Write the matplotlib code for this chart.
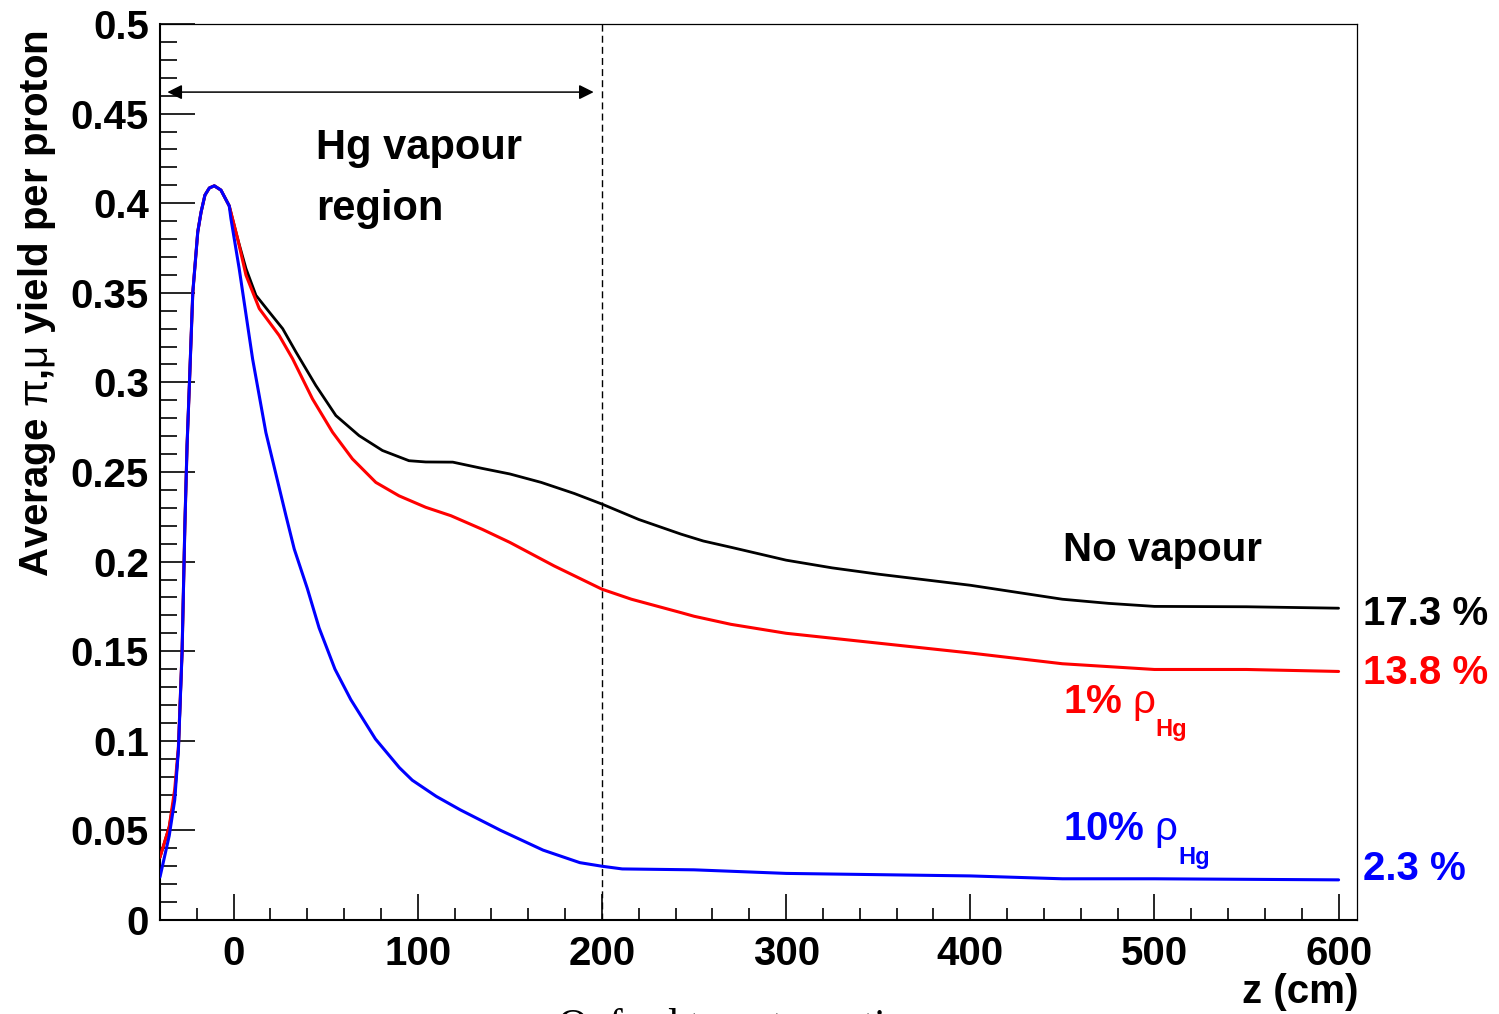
import matplotlib
matplotlib.use("Agg")
import matplotlib.pyplot as plt
from matplotlib.ticker import MultipleLocator, FixedLocator

# ---------------- data ----------------
z_black = [-40, -35, -32, -30, -28, -26.5, -25.3, -24, -22.2, -19.5, -17.7, -15.6, -13.2, -10.5,
           -6.9, -2.4, 2.2, 6.7, 12.1, 19.3, 26.6, 33.8, 44.6, 55.5, 68.1, 80.8, 95.2, 104.3,
           119, 135, 150, 167, 185, 200, 220, 243, 255, 270, 300, 325, 350, 400, 450, 475,
           500, 550, 600]
v_black = [0.035, 0.052, 0.070, 0.095, 0.150, 0.220, 0.265, 0.300, 0.350, 0.384, 0.395, 0.4045,
           0.4085, 0.4097, 0.4073, 0.3985, 0.380, 0.3635, 0.3486, 0.3393, 0.330, 0.317, 0.2983,
           0.2815, 0.2703, 0.262, 0.2563, 0.2556, 0.2555, 0.252, 0.2489, 0.2442, 0.238, 0.2321,
           0.2235, 0.2153, 0.2115, 0.208, 0.2008, 0.1965, 0.193, 0.1868, 0.179, 0.1767, 0.175,
           0.1748, 0.174]

z_red = [-40, -35, -32, -30, -28, -26.5, -25.3, -24, -22.2, -19.5, -17.7, -15.6, -13.2, -10.5,
         -6.9, -2.4, 2.2, 6.7, 13.9, 24.7, 32, 42.8, 53.7, 64.5, 77.2, 89.8, 104.3, 118, 135,
         150, 174, 200, 216, 243, 250, 270, 300, 350, 400, 450, 500, 550, 600]
v_red = [0.035, 0.052, 0.073, 0.097, 0.150, 0.220, 0.265, 0.300, 0.350, 0.384, 0.395, 0.4045,
         0.4085, 0.4097, 0.4073, 0.3985, 0.380, 0.3598, 0.3412, 0.3262, 0.3132, 0.2908, 0.2722,
         0.2573, 0.2442, 0.2367, 0.2303, 0.2256, 0.218, 0.2107, 0.1976, 0.1846, 0.179, 0.1715,
         0.1695, 0.165, 0.160, 0.1545, 0.149, 0.143, 0.1398, 0.1398, 0.1387]

z_blue = [-40, -35, -32, -30, -28, -26.5, -25.3, -24, -22.2, -19.5, -17.7, -15.6, -13.2, -10.5,
          -6.9, -2.4, -1.5, 3.0, 10.3, 17.5, 28.4, 32.9, 40, 46.4, 55, 63.6, 77, 90, 97, 110,
          123, 145, 168, 188, 200, 211, 250, 300, 400, 450, 500, 600]
v_blue = [0.024, 0.047, 0.067, 0.095, 0.150, 0.220, 0.265, 0.300, 0.350, 0.384, 0.395, 0.4045,
          0.4085, 0.4097, 0.4073, 0.3985, 0.3915, 0.3635, 0.313, 0.272, 0.2256, 0.207, 0.185,
          0.163, 0.140, 0.123, 0.101, 0.085, 0.078, 0.069, 0.0615, 0.050, 0.039, 0.032, 0.030,
          0.0285, 0.028, 0.026, 0.0246, 0.023, 0.023, 0.0224]

x_ticks = [0, 100, 200, 300, 400, 500, 600]
y_ticks = [0, 0.05, 0.1, 0.15, 0.2, 0.25, 0.3, 0.35, 0.4, 0.45, 0.5]
y_ticklabels = ["0", "0.05", "0.1", "0.15", "0.2", "0.25", "0.3", "0.35", "0.4", "0.45", "0.5"]

# ---------------- style ----------------
plt.rcParams['font.family'] = ['Liberation Sans', 'DejaVu Sans']
plt.rcParams['font.weight'] = 'bold'
plt.rcParams['mathtext.fontset'] = 'custom'
plt.rcParams['mathtext.rm'] = 'Liberation Sans:normal'
plt.rcParams['mathtext.it'] = 'Liberation Sans:normal'
plt.rcParams['mathtext.bf'] = 'Liberation Sans:bold'

W, H = 1499, 1014
fig = plt.figure(figsize=(W / 100, H / 100), dpi=100)
fig.patch.set_facecolor('white')

L, R, T, B = 160, 1357, 24, 920
ax = fig.add_axes([L / W, 1 - B / H, (R - L) / W, (B - T) / H])

def fx(px):
    return px / W

def fy(py):
    return 1 - py / H

kw = dict(solid_joinstyle='round', solid_capstyle='round')
ax.plot(z_black, v_black, color='black', lw=2.0, zorder=3, **kw)
ax.plot(z_red, v_red, color='#ff0000', lw=2.2, zorder=4, **kw)
ax.plot(z_blue, v_blue, color='#0000ff', lw=2.2, zorder=5, **kw)

ax.set_xlim(-40, 610)
ax.set_ylim(0, 0.5)

ax.xaxis.set_major_locator(FixedLocator(x_ticks))
ax.xaxis.set_minor_locator(MultipleLocator(20))
ax.yaxis.set_major_locator(FixedLocator(y_ticks))
ax.set_yticklabels(y_ticklabels)
ax.yaxis.set_minor_locator(MultipleLocator(0.01))

ax.tick_params(axis='y', which='major', direction='in', length=25, width=1.2,
               labelsize=29, pad=8, left=True, right=False)
ax.tick_params(axis='y', which='minor', direction='in', length=12.5, width=1.2,
               left=True, right=False)
ax.tick_params(axis='x', which='major', direction='in', length=19, width=1.2,
               labelsize=29, pad=11, bottom=True, top=False)
ax.tick_params(axis='x', which='minor', direction='in', length=8.6, width=1.2,
               bottom=True, top=False)
for lab in ax.get_xticklabels() + ax.get_yticklabels():
    lab.set_fontweight('bold')

ax.spines['left'].set_linewidth(1.5)
ax.spines['bottom'].set_linewidth(1.5)
ax.spines['top'].set_linewidth(0.9)
ax.spines['right'].set_linewidth(0.9)

# dashed boundary of Hg vapour region
ax.axvline(200, color='black', lw=1.0, dashes=(5, 3), zorder=2)

# double-headed arrow
ax.annotate('', xy=(-36, 0.462), xytext=(195.5, 0.462),
            arrowprops=dict(arrowstyle='<|-|>', color='black', lw=1.1,
                            mutation_scale=22, shrinkA=0, shrinkB=0))

# ---------------- texts ----------------
fig.text(fx(316), fy(159), "Hg vapour", fontsize=30, fontweight='bold', va='baseline')
fig.text(fx(316), fy(220), "region", fontsize=30, fontweight='bold', va='baseline')

fig.text(fx(1063), fy(561), "No vapour", fontsize=29, fontweight='bold', va='baseline')

fig.text(fx(1063), fy(713), r"1% $\rho$", fontsize=29, fontweight='bold',
         color='#ff0000', va='baseline')
fig.text(fx(1155), fy(736), "Hg", fontsize=17, fontweight='bold',
         color='#ff0000', va='baseline')

fig.text(fx(1063), fy(840), r"10% $\rho$", fontsize=29, fontweight='bold',
         color='#0000ff', va='baseline')
fig.text(fx(1178), fy(864), "Hg", fontsize=17, fontweight='bold',
         color='#0000ff', va='baseline')

fig.text(fx(1363), fy(625), "17.3 %", fontsize=29, fontweight='bold',
         color='black', va='baseline')
fig.text(fx(1363), fy(684), "13.8 %", fontsize=29, fontweight='bold',
         color='#ff0000', va='baseline')
fig.text(fx(1363), fy(880), "2.3 %", fontsize=29, fontweight='bold',
         color='#0000ff', va='baseline')

fig.text(fx(1358), fy(1003), "z (cm)", fontsize=29, fontweight='bold',
         ha='right', va='baseline')

fig.text(fx(37), fy(303), r"Average $\pi$,$\mu$ yield per proton", fontsize=29,
         fontweight='bold', rotation=90, ha='center', va='center')

# caption of the page, cut by the bottom edge as in the reference
fig.text(fx(558), fy(1008), "Oxford target meeting", fontsize=30,
         family='Liberation Serif', fontweight='normal', ha='left', va='top')

fig.savefig("out.png", dpi=100, facecolor='white')
